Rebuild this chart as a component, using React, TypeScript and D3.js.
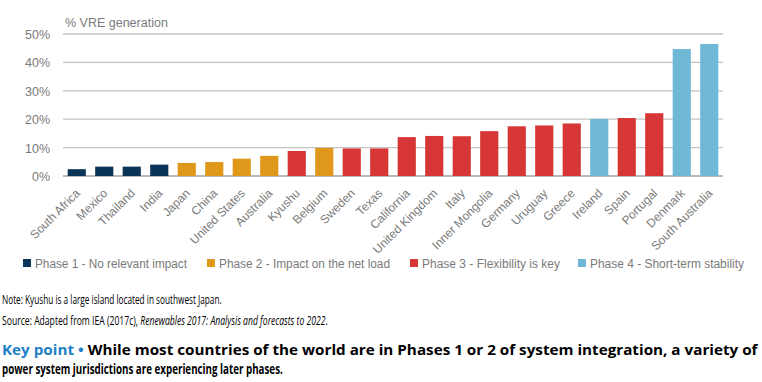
import React from "react";
import * as d3 from "d3";

const categories = ["South Africa","Mexico","Thailand","India","Japan","China","United States","Australia","Kyushu","Belgium","Sweden","Texas","California","United Kingdom","Italy","Inner Mongolia","Germany","Uruguay","Greece","Ireland","Spain","Portugal","Denmark","South Australia"];
const values = [2.4,3.3,3.3,4.0,4.6,4.9,6.1,7.1,8.8,9.9,9.7,9.7,13.7,14.1,14.0,15.8,17.5,17.8,18.5,20.1,20.4,22.1,44.7,46.5];
const phases = [1,1,1,1,2,2,2,2,3,2,3,3,3,3,3,3,3,3,3,4,3,3,4,4];
const phaseLabels = ["Phase 1 - No relevant impact","Phase 2 - Impact on the net load","Phase 3 - Flexibility is key","Phase 4 - Short-term stability"];
const phaseColors = ["#0b3558","#e0981b","#d63636","#6fb9d7"];
const yTicks = [0,10,20,30,40,50];

const NOTE_FONT = "'Open Sans', 'Liberation Sans', sans-serif";

type Part = { t: string; style?: string; weight?: string; fill?: string };

let ctx: CanvasRenderingContext2D | null = null;
function measure(parts: Part[], size: number): number {
  if (!ctx) ctx = document.createElement("canvas").getContext("2d");
  let w = 0;
  for (const p of parts) {
    ctx!.font = `${p.style || "normal"} ${p.weight || "normal"} ${size}px ${NOTE_FONT}`;
    w += ctx!.measureText(p.t).width;
  }
  return w;
}

function FitLine({ x, y, size, target, parts }: { x: number; y: number; size: number; target: number; parts: Part[] }) {
  const w = measure(parts, size);
  const s = w > 0 ? target / w : 1;
  return (
    <text transform={`translate(${x},${y}) scale(${s},1)`} fontSize={size} fontFamily={NOTE_FONT} style={{ whiteSpace: "pre" }}>
      {parts.map((p, i) => (
        <tspan key={i} fontStyle={p.style || "normal"} fontWeight={p.weight || "normal"} fill={p.fill || "#000"}>{p.t}</tspan>
      ))}
    </text>
  );
}

export default function App() {
  const W = 762, H = 382;
  const x = d3.scaleBand<string>().domain(categories).range([63, 723]).paddingInner(0.34).paddingOuter(0.17);
  const y = d3.scaleLinear().domain([0, 50]).range([176, 34]);
  const legendX = [23, 207, 410, 578];
  const legendW = [152, 171, 138, 154];
  const gray = "#7a7a7a";
  return (
    <svg width={W} height={H} style={{ position: "absolute", left: 0, top: 0, background: "#fff" }} fontFamily="'Liberation Sans', Arial, sans-serif">
      <text x={65} y={27} fontSize={12.5} fill={gray}>% VRE generation</text>
      {yTicks.map(t => (
        <g key={t}>
          <line x1={63} x2={723} y1={y(t)} y2={y(t)} stroke={t === 0 ? "#a0a0a0" : "#c4c4c4"} strokeWidth={1.3} />
          <text x={50} y={y(t) + 5} fontSize={12.5} fill={gray} textAnchor="end">{t}%</text>
        </g>
      ))}
      {categories.map((c, i) => (
        <rect key={c} x={x(c)} y={y(values[i])} width={x.bandwidth()} height={y(0) - y(values[i])} fill={phaseColors[phases[i] - 1]} />
      ))}
      {categories.map(c => {
        const cx = (x(c) as number) + x.bandwidth() / 2 + 4;
        const cy = 194;
        return (
          <text key={c} x={cx} y={cy} fontSize={12} fill={gray} textAnchor="end" transform={`rotate(-45 ${cx} ${cy})`}>{c}</text>
        );
      })}
      {phaseLabels.map((l, i) => (
        <g key={l}>
          <rect x={legendX[i]} y={259} width={8} height={8} fill={phaseColors[i]} />
          <text x={legendX[i] + 12} y={268} fontSize={12.5} fill={gray} textLength={legendW[i]} lengthAdjust="spacingAndGlyphs">{l}</text>
        </g>
      ))}
      <FitLine x={2} y={304} size={13.5} target={220} parts={[{ t: "Note: Kyushu is a large island located in southwest Japan." }]} />
      <FitLine x={2} y={325} size={13.5} target={326} parts={[{ t: "Source: Adapted from IEA (2017c), " }, { t: "Renewables 2017: Analysis and forecasts to 2022", style: "italic" }, { t: "." }]} />
      <FitLine x={2} y={355} size={15} target={756} parts={[{ t: "Key point \u2022 ", weight: "bold", fill: "#1f7fc6" }, { t: "While most countries of the world are in Phases 1 or 2 of system integration, a variety of", weight: "bold" }]} />
      <FitLine x={2} y={374} size={15} target={281} parts={[{ t: "power system jurisdictions are experiencing later phases.", weight: "bold" }]} />
    </svg>
  );
}
